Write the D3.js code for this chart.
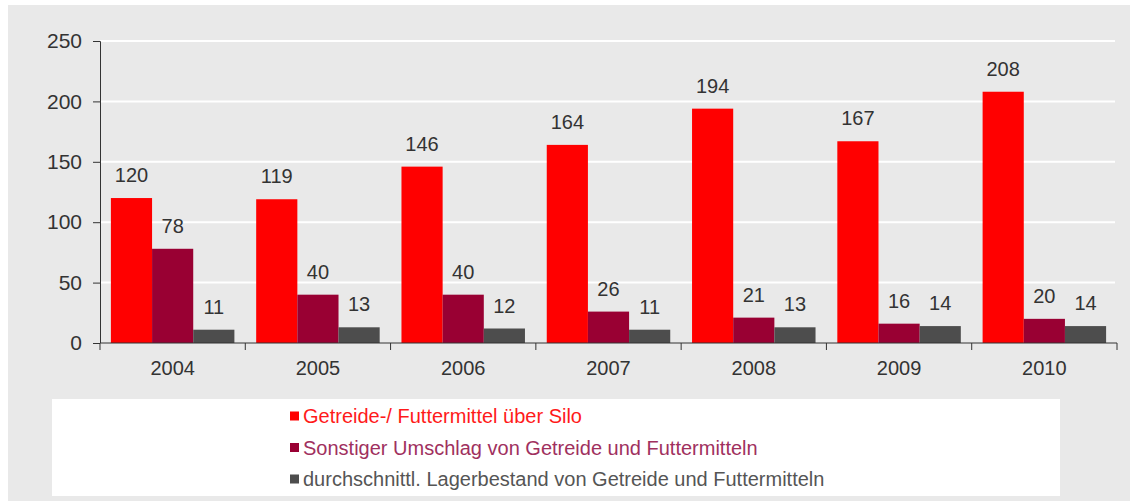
<!DOCTYPE html>
<html>
<head>
<meta charset="utf-8">
<script src="https://cdn.jsdelivr.net/npm/d3@7"></script>
<style>
  body { margin: 0; background: #fff; }
  text { font-family: "Liberation Sans", Arial, sans-serif; }
</style>
</head>
<body>
<div id="chart"></div>
<script>
// chart data
var years = ["2004", "2005", "2006", "2007", "2008", "2009", "2010"];
var seriesNames = [
  "Getreide-/ Futtermittel über Silo",
  "Sonstiger Umschlag von Getreide und Futtermitteln",
  "durchschnittl. Lagerbestand von Getreide und Futtermitteln"
];
var silo = [120, 119, 146, 164, 194, 167, 208];
var sonstiger = [78, 40, 40, 26, 21, 16, 20];
var lager = [11, 13, 12, 11, 13, 14, 14];
var yTicks = [0, 50, 100, 150, 200, 250];

var colors = ["#ff0000", "#990033", "#4d4d4d"];
var legendColors = ["#ff1a1a", "#a0305e", "#555555"];

var svgWidth = 1130;
var svgHeight = 501;

var margin = { top: 41, left: 100, right: 13, bottom: 158 };
var chartWidth = svgWidth - margin.left - margin.right;
var chartHeight = svgHeight - margin.top - margin.bottom;

var svg = d3.select("#chart")
  .append("svg")
  .attr("width", svgWidth)
  .attr("height", svgHeight);

// grey background
svg.append("rect")
  .attr("x", 8).attr("y", 5)
  .attr("width", svgWidth - 8).attr("height", svgHeight - 5)
  .attr("fill", "#e9e9e9");

var chartGroup = svg.append("g")
  .attr("transform", `translate(${margin.left}, ${margin.top})`);

var xScale = d3.scaleBand()
  .domain(years)
  .range([0, chartWidth])
  .paddingInner(0.15)
  .paddingOuter(0.075);

var xSub = d3.scaleBand()
  .domain([0, 1, 2])
  .range([0, xScale.bandwidth()]);

var yScale = d3.scaleLinear()
  .domain([0, 250])
  .range([chartHeight, 0]);

// gridlines
chartGroup.selectAll(".grid")
  .data(yTicks.slice(1))
  .enter()
  .append("line")
  .attr("x1", 0)
  .attr("x2", chartWidth - 2)
  .attr("y1", d => yScale(d))
  .attr("y2", d => yScale(d))
  .attr("stroke", "#ffffff")
  .attr("stroke-width", 2);

// bars
var table = years.map((y, i) => ({ year: y, values: [silo[i], sonstiger[i], lager[i]] }));

var groups = chartGroup.selectAll(".year")
  .data(table)
  .enter()
  .append("g")
  .attr("transform", d => `translate(${xScale(d.year)}, 0)`);

groups.selectAll("rect")
  .data(d => d.values)
  .enter()
  .append("rect")
  .attr("x", (d, i) => xSub(i))
  .attr("y", d => yScale(d))
  .attr("width", xSub.bandwidth())
  .attr("height", d => chartHeight - yScale(d))
  .attr("fill", (d, i) => colors[i]);

groups.selectAll(".val")
  .data(d => d.values)
  .enter()
  .append("text")
  .attr("x", (d, i) => xSub(i) + xSub.bandwidth() / 2)
  .attr("y", d => yScale(d) - 16)
  .attr("text-anchor", "middle")
  .attr("font-size", 20)
  .attr("fill", "#333")
  .text(d => d);

// axes
var leftAxis = d3.axisLeft(yScale).tickValues(yTicks).tickSize(7).tickPadding(11);
var bottomAxis = d3.axisBottom(xScale).tickSize(0).tickPadding(18);

var yAxisG = chartGroup.append("g").call(leftAxis);
yAxisG.select(".domain").attr("stroke", "#333").attr("d", `M-7,0.5H0.5V${chartHeight}`);
yAxisG.selectAll(".tick line").attr("stroke", "#333");
yAxisG.selectAll(".tick text").attr("font-size", 21).attr("fill", "#333")
  .attr("font-family", "Liberation Sans, Arial, sans-serif");

var xAxisG = chartGroup.append("g")
  .attr("transform", `translate(0, ${chartHeight})`)
  .call(bottomAxis);
xAxisG.select(".domain").attr("stroke", "#333").attr("d", `M0,0H${chartWidth}`);
xAxisG.selectAll(".tick text").attr("font-size", 20).attr("fill", "#333")
  .attr("font-family", "Liberation Sans, Arial, sans-serif");

// category separators
xAxisG.selectAll(".sep")
  .data(d3.range(years.length + 1))
  .enter()
  .append("line")
  .attr("x1", d => d * chartWidth / years.length)
  .attr("x2", d => d * chartWidth / years.length)
  .attr("y1", 0)
  .attr("y2", 7)
  .attr("stroke", "#333");

// legend
svg.append("rect")
  .attr("x", 52).attr("y", 399)
  .attr("width", 1008).attr("height", 97)
  .attr("fill", "#ffffff");

var legend = svg.selectAll(".legend")
  .data(seriesNames)
  .enter()
  .append("g")
  .attr("transform", (d, i) => `translate(290, ${416 + i * 31.5})`);

legend.append("rect")
  .attr("x", 0).attr("y", -4.5)
  .attr("width", 9).attr("height", 9)
  .attr("fill", (d, i) => colors[i]);

legend.append("text")
  .attr("x", 13)
  .attr("y", 7)
  .attr("font-size", 20)
  .attr("fill", (d, i) => legendColors[i])
  .text(d => d);
</script>
</body>
</html>
